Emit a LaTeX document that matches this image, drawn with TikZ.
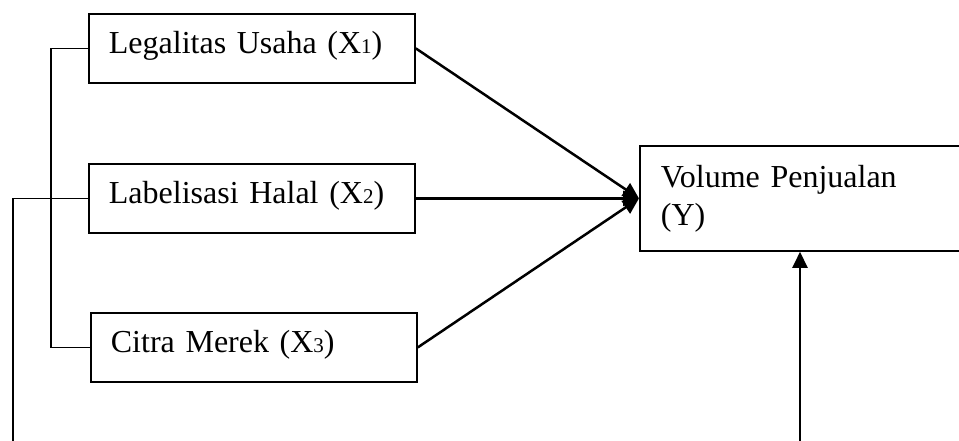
\documentclass[tikz,border=0pt]{standalone}
\usepackage{fontspec}
\setmainfont{Liberation Serif}
\usepackage{tikz}
\usetikzlibrary{arrows.meta}
\usetikzlibrary{positioning}

\newcommand{\sbx}[1]{{\fontsize{21}{21}\selectfont #1}}

\tikzset{
	varbox/.style={draw, line width=1.8pt, anchor=north west, align=left,
		text width=286pt, inner xsep=20pt, minimum height=69pt,
		text height=22pt, text depth=11pt},
	depbox/.style={draw, line width=1.8pt, anchor=north west, align=left,
		text width=340pt, inner xsep=21pt, minimum height=105pt},
	link/.style={line width=2.5pt, -{Triangle[length=16pt,width=15pt]}},
	frame/.style={line width=1.2pt}
}

\begin{document}
\begin{tikzpicture}[x=1pt, y=-1pt, font=\fontsize{32}{38}\selectfont]
		\clip (0,0) rectangle (959,441);
		
		\node[varbox] (x1) at (88,13) {Legalitas Usaha (X\sbx{1})};
		\node[varbox] (x2) at (88,163) {Labelisasi Halal (X\sbx{2})};
		\node[varbox] (x3) at (90,312) {Citra Merek (X\sbx{3})};
		\node[depbox] (y) at (639,145) {Volume Penjualan\\(Y)};
		
		\coordinate (brk) at (51,0);
		\coordinate (lft) at (13,441);
		\coordinate (bot) at (800,441);
		
		\draw[link] (x1.east) -- (y.west);
		\draw[link] (x2.east) -- (y.west);
		\draw[link] (x3.east) -- (y.west);
		\draw[link] (bot) -- (bot |- y.south);
		
		\draw[frame] (x1.west) -- (x1.west -| brk) |- (x3.west);
		\draw[frame] (x2.west) -| (lft);
	\end{tikzpicture}
\end{document}
